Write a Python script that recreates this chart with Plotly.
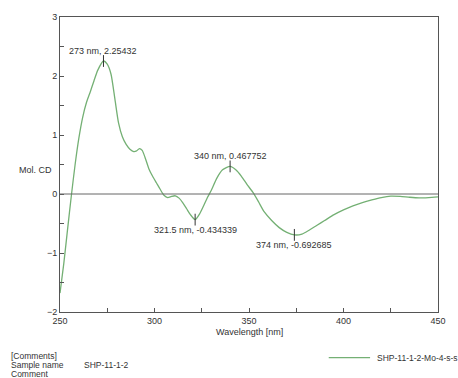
import plotly.graph_objects as go

wavelength = [250, 252, 254, 256, 258, 260, 262, 264, 266, 268, 270, 273, 275, 277,
              279, 281, 283, 285, 287, 289, 290.5, 292, 293.5, 295, 297, 299, 301, 303,
              305, 307, 309, 311, 313, 315, 317, 319, 321.5, 324, 326, 328, 330,
              333, 336, 340, 343, 346, 349, 352, 355, 358, 362, 366, 370, 374, 378,
              382, 386, 390, 395, 400, 405, 410, 415, 420, 425, 430, 435, 440, 445, 450]
mol_cd = [-1.68, -1.18, -0.6, -0.03, 0.5, 0.95, 1.3, 1.55, 1.73, 1.92, 2.1, 2.254, 2.2, 2.03,
          1.62, 1.2, 0.97, 0.84, 0.76, 0.72, 0.73, 0.77, 0.74, 0.62, 0.43, 0.3, 0.19, 0.08,
          -0.02, -0.06, -0.04, -0.03, -0.07, -0.15, -0.25, -0.35, -0.434, -0.33, -0.2, -0.06, 0.06,
          0.27, 0.41, 0.468, 0.41, 0.3, 0.16, 0.03, -0.13, -0.3, -0.45, -0.57, -0.65, -0.693, -0.68,
          -0.61, -0.53, -0.45, -0.35, -0.27, -0.2, -0.145, -0.1, -0.06, -0.035, -0.04, -0.055, -0.065, -0.06, -0.05]

peak_wl = [273, 340, 321.5, 374]
peak_val = [2.25432, 0.467752, -0.434339, -0.692685]
peak_side = ["above", "above", "below", "below"]

x_ticks = [250, 300, 350, 400, 450]
y_ticks = [-2, -1, 0, 1, 2, 3]

series_name = "SHP-11-1-2-Mo-4-s-s"
sample_name = "SHP-11-1-2"
comment_lines = ["[Comments]", "Sample name", "Comment"]

FONT = "Liberation Sans, Arial, sans-serif"
TXT = "#333333"
AX = "#555555"
GREEN = "#74b074"

W, H = 458, 378
ml, mr, mt, mb = 60, 14, 15, 66
pw, ph = W - ml - mr, H - mt - mb


def px(xp):
    return (xp - ml) / pw


def py(yp):
    return (H - mb - yp) / ph


fig = go.Figure()
fig.add_trace(go.Scatter(x=wavelength, y=mol_cd, mode="lines",
                         line=dict(color=GREEN, width=1.3, shape="spline", smoothing=0.6),
                         name=series_name, showlegend=False))

# zero line
fig.add_shape(type="line", xref="paper", yref="y", x0=0, x1=1, y0=0, y1=0,
              line=dict(color="#666666", width=1))

for w, v, side in zip(peak_wl, peak_val, peak_side):
    fig.add_shape(type="line", xref="x", yref="y", x0=w, x1=w, y0=v - 0.1, y1=v + 0.1,
                  line=dict(color="#333333", width=1))
    fig.add_annotation(x=w, y=v, xref="x", yref="y", text=f"{w:g} nm, {v:g}",
                       showarrow=False, yanchor="middle",
                       yshift=10 if side == "above" else -10.5,
                       font=dict(family=FONT, size=9, color=TXT))

fig.update_xaxes(range=[250, 450], tickvals=x_ticks, ticks="inside", ticklen=4,
                 tickcolor=AX, showline=True, linecolor=AX, linewidth=1, mirror=True,
                 showgrid=False, zeroline=False,
                 minor=dict(ticks="inside", ticklen=4, tickcolor=AX, dtick=25, showgrid=False),
                 tickfont=dict(family=FONT, size=9, color=TXT))
fig.update_yaxes(range=[-2, 3], tickvals=y_ticks, ticks="inside", ticklen=4,
                 tickcolor=AX, showline=True, linecolor=AX, linewidth=1, mirror=True,
                 showgrid=False, zeroline=False,
                 minor=dict(ticks="inside", ticklen=4, tickcolor=AX, dtick=0.5, showgrid=False),
                 tickfont=dict(family=FONT, size=9, color=TXT))

# axis titles
fig.add_annotation(x=px(16), y=py(169), xref="paper", yref="paper", xanchor="left",
                   yanchor="middle", text="Mol. CD", showarrow=False,
                   font=dict(family=FONT, size=9, color=TXT))
fig.add_annotation(x=0.5, y=py(332), xref="paper", yref="paper", yanchor="middle",
                   text="Wavelength [nm]", showarrow=False,
                   font=dict(family=FONT, size=9, color=TXT))

# bottom comments
for i, t in enumerate(comment_lines):
    fig.add_annotation(x=px(8), y=py(356 + 9 * i), xref="paper", yref="paper", text=t,
                       showarrow=False, xanchor="left", yanchor="middle",
                       font=dict(family=FONT, size=8.5, color=TXT))
fig.add_annotation(x=px(82), y=py(365), xref="paper", yref="paper", text=sample_name,
                   showarrow=False, xanchor="left", yanchor="middle",
                   font=dict(family=FONT, size=8.5, color=TXT))

# legend
fig.add_shape(type="line", xref="paper", yref="paper", x0=px(333), x1=px(375),
              y0=py(358), y1=py(358), line=dict(color=GREEN, width=1.3))
fig.add_annotation(x=px(380), y=py(358), xref="paper", yref="paper", text=series_name,
                   showarrow=False, xanchor="left", yanchor="middle",
                   font=dict(family=FONT, size=8.5, color=TXT))

fig.update_layout(
    width=W, height=H,
    margin=dict(l=ml, r=mr, t=mt, b=mb),
    paper_bgcolor="white", plot_bgcolor="white",
    showlegend=False,
)

fig.write_html("out.html")
